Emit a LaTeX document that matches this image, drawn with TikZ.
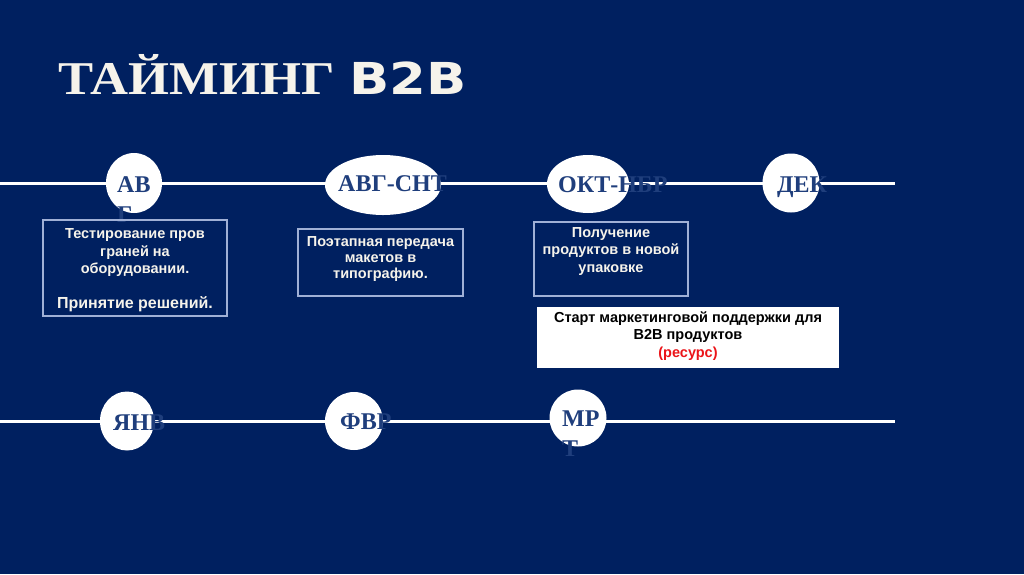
\documentclass[tikz,border=0pt]{standalone}
\usepackage{fontspec}
\setmainfont{Liberation Sans}
\newfontfamily\monthfont{Liberation Serif}
\newfontfamily\titlesans{DejaVu Sans}
\usetikzlibrary{shapes.geometric}
\definecolor{bgnavy}{RGB}{0,32,96}
\definecolor{lblblue}{RGB}{31,62,124}
\definecolor{boxline}{RGB}{160,176,214}
\definecolor{titlecol}{RGB}{246,243,235}
\definecolor{resred}{RGB}{235,20,25}
\begin{document}
\begin{tikzpicture}[x=1pt,y=-1pt,
  timeline/.style={draw=white,line width=3pt},
  moncirc/.style={ellipse,fill=white,inner sep=0pt},
  monlabel/.style={anchor=base west,inner sep=0pt,text=lblblue,align=left,
    font=\monthfont\bfseries\fontsize{24}{30}\selectfont},
  infobox/.style={draw=boxline,line width=1.2pt,inner sep=0pt},
  infotext/.style={anchor=base,inner sep=0pt,align=center,text=titlecol,
    font=\bfseries\fontsize{14.5}{17.5}\selectfont},
]
\useasboundingbox (0,0) rectangle (1024,574);
\fill[bgnavy] (0,0) rectangle (1024,574);

% title
\node[anchor=base west,inner sep=0pt,text=titlecol,xscale=1.12,
  font=\monthfont\bfseries\fontsize{47}{52}\selectfont] (title) at (58,94) {ТАЙМИНГ};
\node[anchor=base west,inner sep=0pt,text=titlecol,xscale=1.2,
  font=\titlesans\bfseries\fontsize{44}{48}\selectfont] (titleb) at (349,94) {B2B};

% timelines
\coordinate (t0) at (0,183);
\coordinate (t1) at (895,183);
\coordinate (b0) at (0,421);
\coordinate (b1) at (895,421);
\draw[timeline] (t0) -- (t1);
\draw[timeline] (b0) -- (b1);

% circles top
\node[moncirc,minimum width=56,minimum height=60] (cavg) at (134,183) {};
\node[moncirc,minimum width=116,minimum height=60] (cavgsnt) at (383,185) {};
\node[moncirc,minimum width=82,minimum height=58] (coktnbr) at (588,184) {};
\node[moncirc,minimum width=57,minimum height=59] (cdek) at (791,183) {};
% circles bottom
\node[moncirc,minimum width=54,minimum height=59] (cjan) at (127,421) {};
\node[moncirc,minimum width=58,minimum height=58] (cfeb) at (354,421) {};
\node[moncirc,minimum width=57,minimum height=57] (cmar) at (578,418) {};

% month labels
\node[monlabel] (lavg) at (117,222) {АВ\\Г};
\node[monlabel] (lavgsnt) at (338,191) {АВГ-СНТ};
\node[monlabel] (loktnbr) at (558,192) {ОКТ-НБР};
\node[monlabel] (ldek) at (777,192) {ДЕК};
\node[monlabel] (ljan) at (113,430) {ЯНВ};
\node[monlabel] (lfeb) at (340,429) {ФВР};
\node[monlabel] (lmar) at (562,456) {МР\\Т};

% info boxes
\node[infobox,minimum width=184,minimum height=96] (box1) at (135,268) {};
\node[infotext] (txt1) at (135,308) {Тестирование пров\\граней на\\оборудовании.\\[17pt]{\fontsize{16}{19}\selectfont Принятие решений.}};

\node[infobox,minimum width=165,minimum height=67] (box2) at (380.5,262.5) {};
\node[infotext,font=\bfseries\fontsize{14.5}{16}\selectfont] (txt2) at (380.5,278) {Поэтапная передача\\макетов в\\типографию.};

\node[infobox,minimum width=154,minimum height=74] (box3) at (611,259) {};
\node[infotext] (txt3) at (611,272) {Получение\\продуктов в новой\\упаковке};

\node[fill=white,inner sep=0pt,minimum width=302,minimum height=61] (box4) at (688,337.5) {};
\node[infotext,text=black,font=\bfseries\fontsize{14.5}{17.5}\selectfont] (txt4) at (688,357) {Старт маркетинговой поддержки для\\B2B продуктов\\\textcolor{resred}{(ресурс)}};
\end{tikzpicture}
\end{document}
